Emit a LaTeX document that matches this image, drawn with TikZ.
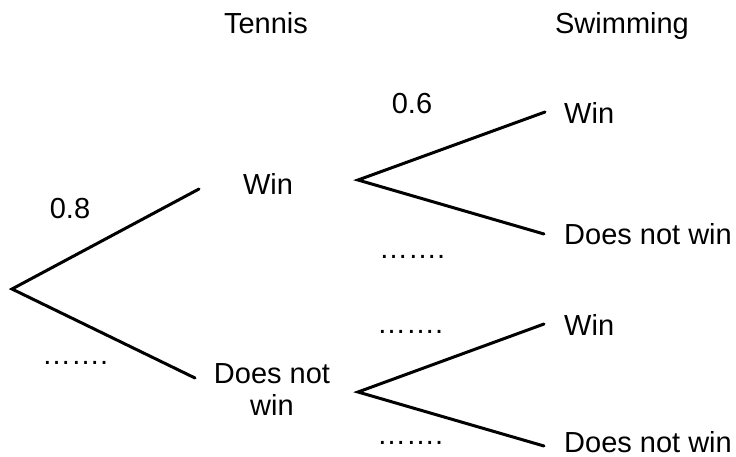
\documentclass[tikz,border=0pt]{standalone}
\usepackage{fontspec}
\setmainfont{Liberation Sans}
\begin{document}
\begin{tikzpicture}[x=1pt,y=-1pt,
  lbl/.style={inner sep=0pt,font=\fontsize{29}{34}\selectfont},
  branch/.style={line width=3pt,line cap=round}]
\useasboundingbox (0,0) rectangle (736,456);
% headings
\node[lbl,anchor=base] (tennis) at (266,33) {Tennis};
\node[lbl,anchor=base] (swim) at (622,33) {Swimming};
% first stage
\coordinate (r) at (12,289);
\coordinate (tw) at (199,189);
\coordinate (tl) at (195,378);
\draw[branch] (tw) -- (r) -- (tl);
\node[lbl,anchor=base] (twin) at (268,194) {Win};
\node[lbl,anchor=base] (tdn1) at (272,383) {Does not};
\node[lbl,anchor=base] (tdn2) at (272,415) {win};
\node[lbl,anchor=base] (p08) at (70,218) {0.8};
\node[lbl,anchor=base west] (d0) at (42,364) {…….};
% second stage upper
\coordinate (r1) at (358,180);
\coordinate (sw1) at (545,112);
\coordinate (sl1) at (544,234);
\draw[branch] (sw1) -- (r1) -- (sl1);
\node[lbl,anchor=base] (p06) at (412,113) {0.6};
\node[lbl,anchor=base west] (swin1) at (564,123) {Win};
\node[lbl,anchor=base west] (sdn1) at (564,244) {Does not win};
\node[lbl,anchor=base west] (d1) at (379,258) {…….};
% second stage lower
\coordinate (r2) at (358,392);
\coordinate (sw2) at (544,324);
\coordinate (sl2) at (544,446);
\draw[branch] (sw2) -- (r2) -- (sl2);
\node[lbl,anchor=base west] (swin2) at (564,335) {Win};
\node[lbl,anchor=base west] (sdn2) at (564,452) {Does not win};
\node[lbl,anchor=base west] (d2) at (377,333) {…….};
\node[lbl,anchor=base west] (d3) at (377,444) {…….};
\end{tikzpicture}
\end{document}
